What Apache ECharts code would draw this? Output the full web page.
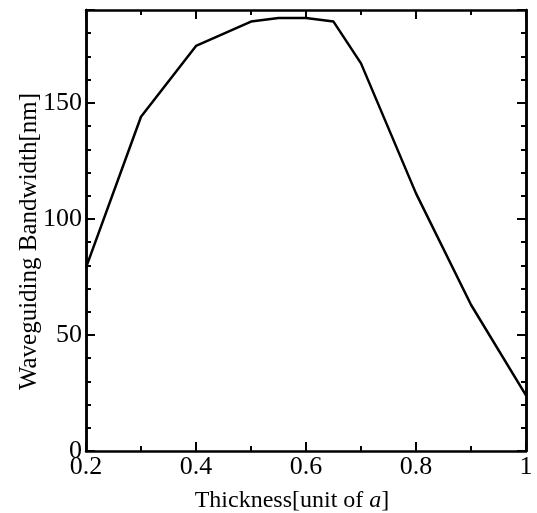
<!DOCTYPE html>
<html><head><meta charset="utf-8">
<script src="https://cdn.jsdelivr.net/npm/echarts@6/dist/echarts.min.js"></script>
<style>html,body{margin:0;padding:0;background:#fff}#c{width:537px;height:513px}</style>
</head><body><div id="c"></div>
<script>
const thickness = [0.2, 0.3, 0.4, 0.5, 0.55, 0.6, 0.65, 0.7, 0.8, 0.9, 1.0];
const bandwidth = [79, 144, 174.5, 185, 186.6, 186.6, 185, 167, 111, 63, 24];
const xTicks = ['0.2', '0.4', '0.6', '0.8', '1'];
const yTicks = [0, 50, 100, 150];

const font = 'Liberation Serif';
const lineC = '#000';
const chart = echarts.init(document.getElementById('c'), null, {renderer: 'canvas'});
const axLine = {show: true, onZero: false, lineStyle: {color: lineC, width: 2.5}};
const xCommon = {type: 'value', min: 0.2, max: 1, interval: 0.2, splitLine: {show: false},
  axisLine: axLine,
  axisTick: {show: true, inside: true, length: 9, lineStyle: {color: lineC, width: 2}},
  minorTick: {show: true, splitNumber: 2, length: 5, lineStyle: {color: lineC, width: 2}}};
function yAx(pos, step, len, labels) {
  return {type: 'value', position: pos, min: 0, max: 190, interval: step, splitLine: {show: false},
    axisLine: axLine,
    axisTick: {show: true, inside: true, length: len, lineStyle: {color: lineC, width: 2}},
    axisLabel: labels ? {show: true, fontFamily: font, fontSize: 26, color: '#000', margin: 4,
      formatter: v => yTicks.indexOf(v) >= 0 ? String(v) : ''} : {show: false}};
}
const yMain = yAx('left', 50, 9, true);
yMain.name = 'Waveguiding Bandwidth[nm]';
yMain.nameLocation = 'middle';
yMain.nameGap = 44;
yMain.nameMoveOverlap = false;
yMain.nameTextStyle = {fontFamily: font, fontSize: 25, color: '#000', padding: [0, 22, 0, 0]};

chart.setOption({
  animation: false,
  backgroundColor: '#fff',
  grid: {left: 86, right: 11, top: 10, bottom: 62, containLabel: false, outerBoundsMode: 'none'},
  xAxis: [
    Object.assign({}, xCommon, {position: 'bottom',
      axisLabel: {show: true, fontFamily: font, fontSize: 26, color: '#000', margin: 3,
        formatter: v => { const i = Math.round((v - 0.2) / 0.2); return Math.abs(v - 0.2 - i * 0.2) < 1e-6 ? xTicks[i] : ''; }},
      name: '{n|Thickness[unit of }{i|a}{n|]}', nameLocation: 'middle', nameGap: 38,
      nameMoveOverlap: false,
      nameTextStyle: {padding: [0, 28, 0, 0], rich: {
        n: {fontFamily: font, fontSize: 24, color: '#000'},
        i: {fontFamily: font, fontSize: 24, color: '#000', fontStyle: 'italic'}}}}),
    Object.assign({}, xCommon, {position: 'top', axisLabel: {show: false}})
  ],
  yAxis: [
    yMain,
    yAx('left', 10, 5, false),
    yAx('right', 50, 9, false),
    yAx('right', 10, 5, false)
  ],
  series: [{
    type: 'line', xAxisIndex: 0, yAxisIndex: 0,
    data: thickness.map((x, i) => [x, bandwidth[i]]),
    showSymbol: false, symbol: 'none', clip: true,
    lineStyle: {color: '#000', width: 2.5}
  }]
});
</script></body></html>
